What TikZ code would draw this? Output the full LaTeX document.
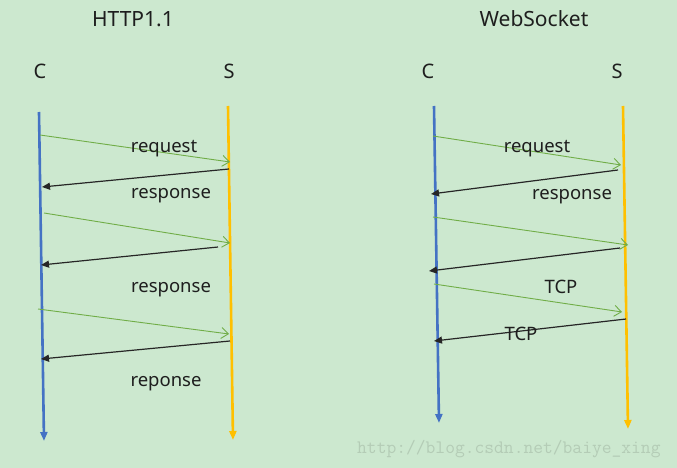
\documentclass[tikz,border=0pt]{standalone}
\usepackage{fontspec}
\setmainfont{Noto Sans}
\usetikzlibrary{arrows.meta}
\definecolor{bg}{HTML}{CCE8CF}
\definecolor{lblue}{HTML}{4472C4}
\definecolor{lorange}{HTML}{FFC000}
\definecolor{lgreen}{HTML}{70AD47}
\definecolor{txt}{HTML}{1E1E1E}
\definecolor{wm}{HTML}{B4CCB6}
\tikzset{
  lifeC/.style={draw=lblue, line width=2.6pt, -{Triangle[length=9pt,width=7pt]}},
  lifeS/.style={draw=lorange, line width=2.6pt, -{Triangle[length=9pt,width=7pt]}},
  req/.style={draw=lgreen, line width=0.9pt, -{Straight Barb[length=7pt,width=11pt,line width=0.9pt]}},
  resp/.style={draw=black!85, line width=1.2pt, -{Triangle[length=8pt,width=7pt]}},
  lbl/.style={text=txt, font=\fontsize{18.5}{20}\selectfont, inner sep=0pt},
  ttl/.style={text=txt, font=\fontsize{21}{24}\selectfont, inner sep=0pt},
  ends/.style={text=txt, font=\fontsize{20}{24}\selectfont, inner sep=0pt},
}
\begin{document}
\begin{tikzpicture}[x=1pt,y=-1pt]
\fill[bg] (0,0) rectangle (677,468);
\useasboundingbox (0,0) rectangle (677,468);

% titles
\node[ttl] (t1) at (133,19) {HTTP1.1};
\node[ttl] (t2) at (534,19) {WebSocket};
\node[ends] (c1) at (40,71) {C};
\node[ends] (s1) at (229,71) {S};
\node[ends] (c2) at (428,71) {C};
\node[ends] (s2) at (617,71) {S};

% left lifelines
\coordinate (LCt) at (39,112); \coordinate (LCb) at (44,441);
\coordinate (LSt) at (228,106); \coordinate (LSb) at (233,440);
\draw[lifeC] (LCt) -- (LCb);
\draw[lifeS] (LSt) -- (LSb);

% left messages
\coordinate (a1) at (40,135);  \coordinate (b1) at (230,162);
\coordinate (a2) at (229,169); \coordinate (b2) at (42,187);
\coordinate (a3) at (44,213);  \coordinate (b3) at (230,243);
\coordinate (a4) at (218,247); \coordinate (b4) at (41,265);
\coordinate (a5) at (38,309);  \coordinate (b5) at (229,334);
\coordinate (a6) at (230,341); \coordinate (b6) at (41,359);
\draw[req] (a1) -- (b1);
\draw[resp] (a2) -- (b2);
\draw[req] (a3) -- (b3);
\draw[resp] (a4) -- (b4);
\draw[req] (a5) -- (b5);
\draw[resp] (a6) -- (b6);

\node[lbl] (l1) at (164,149) {request};
\node[lbl] (l2) at (171,196) {response};
\node[lbl] (l3) at (171,290) {response};
\node[lbl] (l4) at (166,384) {reponse};

% right lifelines
\coordinate (RCt) at (434,106); \coordinate (RCb) at (439,423);
\coordinate (RSt) at (623,106); \coordinate (RSb) at (628,429);
\draw[lifeC] (RCt) -- (RCb);
\draw[lifeS] (RSt) -- (RSb);

% right messages
\coordinate (p1) at (433,136); \coordinate (q1) at (621,165);
\coordinate (p2) at (618,170); \coordinate (q2) at (431,194);
\coordinate (p3) at (433,217); \coordinate (q3) at (628,245);
\coordinate (p4) at (620,248); \coordinate (q4) at (429,271);
\coordinate (p5) at (434,284); \coordinate (q5) at (622,312);
\coordinate (p6) at (626,319); \coordinate (q6) at (434,341);
\draw[req] (p1) -- (q1);
\draw[resp] (p2) -- (q2);
\draw[req] (p3) -- (q3);
\draw[resp] (p4) -- (q4);
\draw[req] (p5) -- (q5);
\draw[resp] (p6) -- (q6);

\node[lbl] (r1) at (537,149) {request};
\node[lbl] (r2) at (572,197) {response};
\node[lbl] (r3) at (561,287) {TCP};
\node[lbl] (r4) at (521,334) {TCP};

% watermark
\node[text=wm, font=\ttfamily\fontsize{19}{20}\selectfont, inner sep=0pt, anchor=west] (wmk) at (357,449) {http://blog.csdn.net/baiye\_xing};
\end{tikzpicture}
\end{document}
